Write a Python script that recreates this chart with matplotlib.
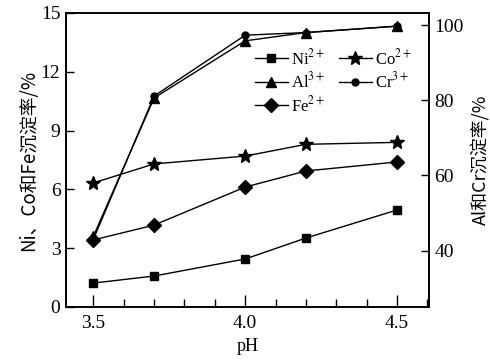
import numpy as np
import matplotlib
matplotlib.use("Agg")
import matplotlib.pyplot as plt
from matplotlib.ticker import MultipleLocator

plt.rcParams['font.family'] = ['Liberation Serif', 'Noto Sans CJK SC']
plt.rcParams['mathtext.fontset'] = 'stix'

# data
ph = [3.5, 3.7, 4.0, 4.2, 4.5]
ni = [1.22, 1.58, 2.45, 3.52, 4.95]
co = [6.33, 7.30, 7.70, 8.30, 8.40]
fe = [3.42, 4.18, 6.12, 6.94, 7.40]
al = [43.8, 80.6, 95.8, 98.0, 99.7]
cr = [43.0, 81.1, 97.3, 98.0, 99.7]

left_ticks = [0, 3, 6, 9, 12, 15]
right_ticks = [40, 60, 80, 100]
x_ticks = [3.5, 4.0, 4.5]

fig = plt.figure(figsize=(4.9, 3.61), dpi=100)
ax = fig.add_axes([0.1347, 0.1496, 0.7408, 0.8144])
ax2 = ax.twinx()

kw = dict(color='black', lw=1.0, mfc='black', mec='black')
l_ni, = ax.plot(ph, ni, marker='s', ms=5.5, label='Ni$^{2+}$', **kw)
l_co, = ax.plot(ph, co, marker='*', ms=10, label='Co$^{2+}$', **kw)
l_fe, = ax.plot(ph, fe, marker='D', ms=7, label='Fe$^{2+}$', **kw)
l_cr, = ax2.plot(ph, cr, marker='o', ms=5, label='Cr$^{3+}$', **kw)
l_al, = ax2.plot(ph, al, marker='^', ms=7.5, label='Al$^{3+}$', **kw)

ax.set_xlim(3.41, 4.605)
ax.set_ylim(0, 15)
ax2.set_ylim(25, 103.2)
ax.set_xticks(x_ticks)
ax.xaxis.set_minor_locator(MultipleLocator(0.1))
ax.set_yticks(left_ticks)
ax2.set_yticks(right_ticks)

ax.tick_params(axis='x', which='major', direction='in', length=9, width=1,
               labelsize=14, pad=6, top=False)
ax.tick_params(axis='x', which='minor', direction='in', length=6, width=1, top=False)
ax.tick_params(axis='y', direction='in', length=6, width=1, labelsize=14, pad=4,
               right=False)
ax2.tick_params(axis='y', direction='in', length=6, width=1, labelsize=14, pad=4)

for sp in list(ax.spines.values()) + list(ax2.spines.values()):
    sp.set_linewidth(1.2)

cjk = ['Noto Sans CJK SC']
ax.set_xlabel('pH', fontsize=13, labelpad=4)
ax.set_ylabel('Ni、Co和Fe沉淀率/%', fontsize=13.5, labelpad=1, family=cjk)
ax2.set_ylabel('Al和Cr沉淀率/%', fontsize=13, labelpad=5, family=cjk)

handles = [l_ni, l_al, l_fe, l_co, l_cr]
ax2.legend(handles=handles, labels=[h.get_label() for h in handles], ncol=2,
           loc='upper left', bbox_to_anchor=(0.52, 0.88), frameon=False,
           fontsize=12, handlelength=2.0, handletextpad=0.2,
           columnspacing=0.8, labelspacing=0.2, borderpad=0, borderaxespad=0)

fig.savefig('out.png', dpi=100)
